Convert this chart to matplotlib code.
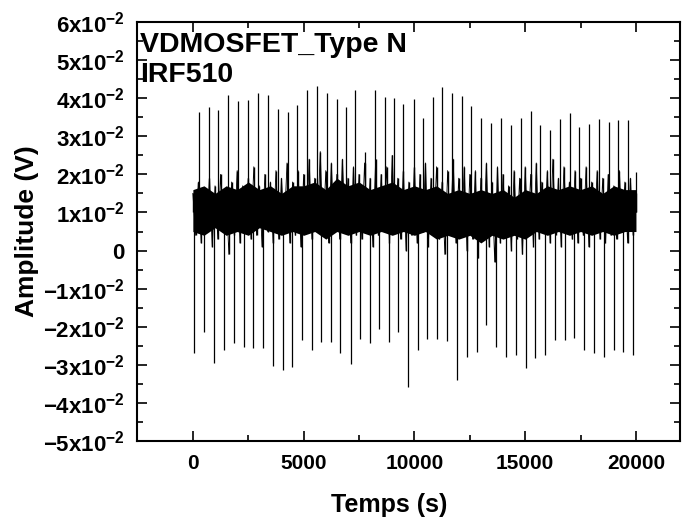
import numpy as np
import matplotlib.pyplot as plt
from matplotlib.ticker import MultipleLocator, FuncFormatter

plt.rcParams['font.family'] = ['Liberation Sans', 'DejaVu Sans']
plt.rcParams['font.weight'] = 'bold'
plt.rcParams['mathtext.fontset'] = 'custom'
plt.rcParams['mathtext.rm'] = 'Liberation Sans:bold'
plt.rcParams['mathtext.it'] = 'Liberation Sans:bold'
plt.rcParams['mathtext.bf'] = 'Liberation Sans:bold'

# positive spikes (s, V)
up_t = [270, 720, 1130, 1580, 2030, 2480, 2930, 3380, 3830, 4280, 4690, 5140,
        5590, 6040, 6490, 6890, 7340, 7790, 8200, 8650, 9100, 9500, 9960, 10410,
        10860, 11260, 11710, 12160, 12570, 13020, 13470, 13920, 14370, 14820,
        15270, 15680, 16130, 16580, 17030, 17430, 17880, 18330, 18780, 19190,
        19640, 19990]
up_v = [0.0364, 0.0377, 0.0369, 0.0408, 0.0393, 0.0395, 0.0414, 0.0408, 0.0372,
        0.0364, 0.0382, 0.0422, 0.0432, 0.0414, 0.0398, 0.0377, 0.0422, 0.0259,
        0.0422, 0.0403, 0.0401, 0.0385, 0.0398, 0.0348, 0.0403, 0.0429, 0.0414,
        0.0406, 0.0380, 0.0348, 0.0335, 0.0348, 0.0330, 0.0348, 0.0366, 0.0330,
        0.0317, 0.0345, 0.0361, 0.0324, 0.0332, 0.0345, 0.0338, 0.0343, 0.0343,
        0.0206]

# negative spikes (s, V)
dn_t = [45, 495, 946, 1396, 1847, 2297, 2703, 3153, 3604, 4054, 4459, 4910,
        5360, 5766, 6216, 6622, 7117, 7523, 7973, 8423, 8874, 9280, 9730, 10180,
        10586, 11036, 11487, 11937, 12388, 12838, 13244, 13694, 14145, 14595,
        15046, 15451, 15902, 16352, 16803, 17208, 17659, 18109, 18559, 19010,
        19416, 19866]
dn_v = [-0.0269, -0.0214, -0.0295, -0.0261, -0.0243, -0.0253, -0.0256, -0.0256,
        -0.0303, -0.0313, -0.0306, -0.0235, -0.0261, -0.0240, -0.0240, -0.0269,
        -0.0298, -0.0232, -0.0243, -0.0206, -0.0240, -0.0214, -0.0358, -0.0261,
        -0.0232, -0.0232, -0.0237, -0.0340, -0.0279, -0.0266, -0.0195, -0.0253,
        -0.0279, -0.0274, -0.0308, -0.0282, -0.0274, -0.0235, -0.0235, -0.0229,
        -0.0261, -0.0269, -0.0279, -0.0261, -0.0266, -0.0274]

# dense core of the noise band, every 500 s
core_t = np.linspace(0, 20000, 41)
core_hi = [0.016, 0.017, 0.015, 0.017, 0.016, 0.018, 0.016, 0.017, 0.015, 0.017,
           0.017, 0.018, 0.016, 0.019, 0.017, 0.018, 0.016, 0.017, 0.018, 0.016,
           0.017, 0.016, 0.017, 0.015, 0.016, 0.015, 0.016, 0.015, 0.016, 0.014,
           0.016, 0.015, 0.017, 0.016, 0.017, 0.016, 0.017, 0.015, 0.017, 0.016,
           0.016]
core_lo = [0.005, 0.004, 0.006, 0.004, 0.005, 0.004, 0.006, 0.005, 0.004, 0.005,
           0.004, 0.005, 0.003, 0.005, 0.004, 0.005, 0.004, 0.005, 0.004, 0.005,
           0.004, 0.005, 0.003, 0.004, 0.003, 0.004, 0.002, 0.004, 0.003, 0.004,
           0.003, 0.005, 0.004, 0.005, 0.004, 0.005, 0.004, 0.005, 0.004, 0.005,
           0.005]

# small noise peaks around the band, every 125 s
noise_v = [0.015, 0.004, 0.018, 0.002, 0.016, 0.006, 0.019, 0.001, 0.017, 0.003,
           0.020, 0.005, 0.016, -0.001, 0.018, 0.004, 0.021, 0.002, 0.017, 0.005,
           0.019,
           0.003, 0.022, 0.004, 0.017, 0.001, 0.020, 0.005, 0.018, 0.002, 0.021,
           0.003, 0.019, 0.006, 0.023, 0.002, 0.018, 0.004, 0.021, 0.001, 0.020,
           0.005, 0.024, 0.003, 0.019, 0.006, 0.026, 0.004, 0.021, 0.002, 0.023,
           0.005, 0.020, 0.003, 0.024, 0.006, 0.019, 0.002, 0.022, 0.004, 0.020,
           0.003, 0.023, 0.005, 0.019, 0.001, 0.024, 0.004, 0.020, 0.006, 0.022,
           0.002, 0.025, 0.005, 0.019, 0.003, 0.021, 0.000, 0.018, 0.004, 0.022,
           0.002, 0.020, 0.005, 0.023, 0.001, 0.019, 0.004, 0.022, 0.003, 0.018,
           -0.001, 0.021, 0.005, 0.024, 0.002, 0.019, 0.004, 0.022, 0.000, 0.020,
           0.003, 0.021, -0.002, 0.019, 0.004, 0.023, 0.001, 0.018, -0.003, 0.022,
           0.002, 0.020, 0.004, 0.017, 0.000, 0.021, 0.003, 0.019, -0.001, 0.022,
           0.004, 0.020, 0.001, 0.023, 0.003, 0.018, 0.005, 0.021, 0.002, 0.024,
           0.004, 0.019, 0.001, 0.022, 0.005, 0.018, 0.003, 0.021, 0.002, 0.019,
           0.004, 0.022, 0.001, 0.018, 0.005, 0.021, 0.003, 0.019, 0.002, 0.020,
           0.004, 0.017, 0.003, 0.021, 0.005, 0.018, 0.002, 0.019, 0.004, 0.015]
noise_t = np.linspace(0, 20000, len(noise_v))

base = 0.010

fig = plt.figure(figsize=(6.83, 5.18), dpi=100)
ax = fig.add_axes([0.2013, 0.1486, 0.7947, 0.8089])

ax.fill_between(core_t, core_lo, core_hi, color='black', lw=0)
ax.vlines(noise_t, base, noise_v, color='black', lw=1.0)
ax.plot(noise_t, noise_v, color='black', lw=0.6)
ax.vlines(up_t, base, up_v, color='black', lw=0.9)
ax.vlines(dn_t, base, dn_v, color='black', lw=0.9)

ax.set_xlim(-2500, 22000)
ax.set_ylim(-0.05, 0.06)
ax.xaxis.set_major_locator(MultipleLocator(5000))
ax.xaxis.set_minor_locator(MultipleLocator(2500))
ax.yaxis.set_major_locator(MultipleLocator(0.01))
ax.yaxis.set_minor_locator(MultipleLocator(0.005))


def yfmt(v, pos):
    n = int(round(v * 100))
    if n == 0:
        return '0'
    return r'$%d\mathrm{x}10^{-2}$' % n


ax.yaxis.set_major_formatter(FuncFormatter(yfmt))
ax.tick_params(which='both', direction='in', top=True, right=True, width=1.2)
ax.tick_params(which='major', length=7)
ax.tick_params(which='minor', length=4)
ax.tick_params(axis='y', labelsize=16, pad=9)
ax.tick_params(axis='x', labelsize=15, pad=9)
for s in ax.spines.values():
    s.set_linewidth(1.5)

ax.set_xlabel('Temps (s)', fontsize=18, fontweight='bold')
ax.xaxis.set_label_coords(0.463, -0.125)
ax.set_ylabel('Amplitude (V)', fontsize=19, fontweight='bold', labelpad=3)

ax.text(0.005, 0.975, 'VDMOSFET_Type N\nIRF510', transform=ax.transAxes,
        ha='left', va='top', fontsize=20.5, fontweight='bold', linespacing=1.2)

fig.savefig('out.png', dpi=100)
